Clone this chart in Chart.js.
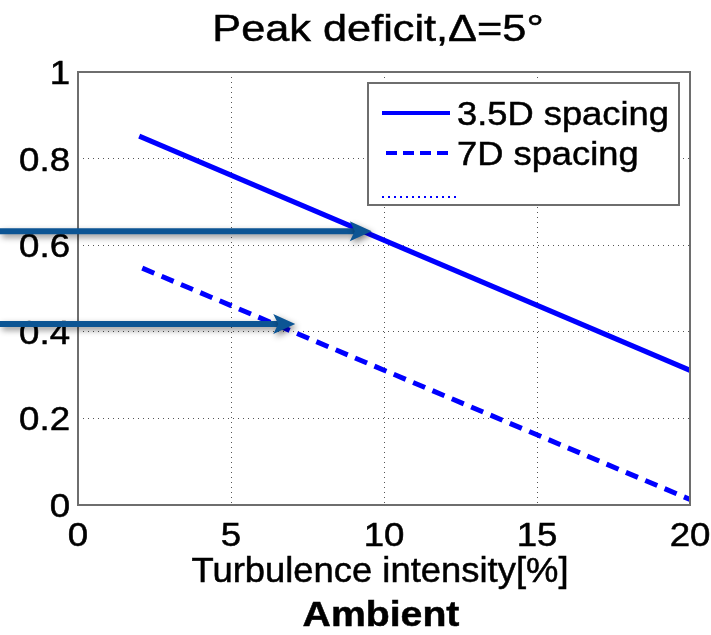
<!DOCTYPE html>
<html>
<head>
<meta charset="utf-8">
<script src="https://cdn.jsdelivr.net/npm/chart.js"></script>
<style>
  html, body { margin: 0; padding: 0; background: #fff; }
  #wrap { width: 711px; height: 635px; }
</style>
</head>
<body>
<div id="wrap"><canvas id="c" width="711" height="635"></canvas></div>
<script>
// data
const intensity35 = [2, 20];
const deficit35 = [0.852, 0.311];
const intensity7 = [2.1, 20];
const deficit7 = [0.547, 0.013];
const seriesLabels = ['3.5D spacing', '7D spacing', ''];
const xTicks = [0, 5, 10, 15, 20];
const yTicks = [0, 0.2, 0.4, 0.6, 0.8, 1];
// arrows pointing in from the left edge
const arrowLevel = [0.632, 0.418];
const arrowTip = [9.6, 7.1];

const FONT = '"Liberation Sans", Arial, sans-serif';
const BLUE = '#0000ff';

const toPoints = (xs, ys) => xs.map((x, i) => ({ x: x, y: ys[i] }));

// text slightly stretched sideways, like the original export
function drawText(ctx, text, x, y, font, sx, align) {
    ctx.save();
    ctx.font = font;
    ctx.fillStyle = '#000';
    ctx.strokeStyle = '#000';
    ctx.lineWidth = 0.5;
    ctx.textBaseline = 'alphabetic';
    ctx.translate(x, y);
    ctx.scale(sx, 1);
    const w = ctx.measureText(text).width;
    let ox = 0;
    if (align === 'center') ox = -w / 2;
    if (align === 'right') ox = -w;
    ctx.fillText(text, ox, 0);
    ctx.strokeText(text, ox, 0);
    ctx.restore();
}

// 标题、刻度、图例、箭头
const decorPlugin = {
    id: 'decor',
    afterDatasetsDraw(chart) {
        const ctx = chart.ctx;
        const a = chart.chartArea;
        const xs = chart.scales.x, ys = chart.scales.y;

        // box around the axes
        ctx.save();
        ctx.strokeStyle = '#6e6e6e';
        ctx.lineWidth = 2;
        ctx.strokeRect(a.left, a.top, a.right - a.left, a.bottom - a.top);
        ctx.restore();

        // tick labels
        xs.ticks.forEach(t => {
            drawText(ctx, String(t.value), xs.getPixelForValue(t.value), 546, '33px ' + FONT, 1.11, 'center');
        });
        ys.ticks.forEach(t => {
            const lbl = String(Math.round(t.value * 10) / 10);
            drawText(ctx, lbl, 70, ys.getPixelForValue(t.value) + 12, '33px ' + FONT, 1.11, 'right');
        });

        // legend
        const lx = 368, ly = 83, lw = 311, lh = 122;
        ctx.save();
        ctx.fillStyle = '#fff';
        ctx.fillRect(lx, ly, lw, lh);
        ctx.strokeStyle = '#6e6e6e';
        ctx.lineWidth = 2;
        ctx.strokeRect(lx, ly, lw, lh);
        const rows = [113, 153, 197];
        const dashes = [[], [11, 6], [2, 4]];
        const widths = [4, 4, 2];
        rows.forEach((ry, i) => {
            ctx.strokeStyle = BLUE;
            ctx.lineWidth = widths[i];
            ctx.setLineDash(dashes[i]);
            ctx.beginPath();
            ctx.moveTo(i === 1 ? 386 : 382, ry);
            ctx.lineTo(i === 2 ? 460 : 450, ry);
            ctx.stroke();
            ctx.setLineDash([]);
            if (seriesLabels[i]) {
                drawText(ctx, seriesLabels[i], 457, ry + 12, '33px ' + FONT, 1.1, 'left');
            }
        });
        ctx.restore();

        // arrows
        ctx.save();
        ctx.shadowColor = 'rgba(0,0,0,0.45)';
        ctx.shadowBlur = 6;
        ctx.shadowOffsetX = 2;
        ctx.shadowOffsetY = 3;
        ctx.strokeStyle = '#0c5594';
        ctx.fillStyle = '#0c5594';
        arrowLevel.forEach((lv, i) => {
            const py = ys.getPixelForValue(lv);
            const tip = xs.getPixelForValue(arrowTip[i]);
            ctx.lineWidth = 6;
            ctx.beginPath();
            ctx.moveTo(0, py);
            ctx.lineTo(tip - 14, py);
            ctx.stroke();
            ctx.beginPath();
            ctx.moveTo(tip, py);
            ctx.lineTo(tip - 22, py - 10);
            ctx.lineTo(tip - 17, py);
            ctx.lineTo(tip - 22, py + 10);
            ctx.closePath();
            ctx.fill();
        });
        ctx.restore();

        // titles
        const cx = (a.left + a.right) / 2;
        drawText(ctx, 'Peak deficit,\u0394=5\u00b0', cx - 6, 41, '37px ' + FONT, 1.17, 'center');
        drawText(ctx, 'Turbulence intensity[%]', cx - 4, 582, '35px ' + FONT, 1.04, 'center');
        drawText(ctx, 'Ambient', cx - 3, 626, 'bold 35px ' + FONT, 1.12, 'center');
    }
};

new Chart(document.getElementById('c'), {
    type: 'scatter',
    data: {
        datasets: [{
            label: seriesLabels[0],
            data: toPoints(intensity35, deficit35),
            showLine: true,
            borderColor: BLUE,
            borderWidth: 5,
            pointRadius: 0
        }, {
            label: seriesLabels[1],
            data: toPoints(intensity7, deficit7),
            showLine: true,
            borderColor: BLUE,
            borderWidth: 5,
            borderDash: [13, 8],
            pointRadius: 0
        }, {
            label: seriesLabels[2],
            data: [],
            showLine: true,
            borderColor: BLUE,
            borderWidth: 2,
            borderDash: [2, 4],
            pointRadius: 0
        }]
    },
    options: {
        responsive: false,
        animation: false,
        layout: { padding: { top: 72, right: 21, left: 0, bottom: 0 } },
        plugins: {
            legend: { display: false },
            title: { display: false },
            tooltip: { enabled: false }
        },
        scales: {
            x: {
                type: 'linear',
                min: 0,
                max: 20,
                afterBuildTicks: s => { s.ticks = xTicks.map(v => ({ value: v })); },
                afterFit: s => { s.height = 130; },
                ticks: { display: false },
                grid: { color: '#555', lineWidth: 1, drawTicks: false },
                border: { display: false, dash: [1, 4] }
            },
            y: {
                type: 'linear',
                min: 0,
                max: 1,
                afterBuildTicks: s => { s.ticks = yTicks.map(v => ({ value: v })); },
                afterFit: s => { s.width = 78; },
                ticks: { display: false },
                grid: { color: '#555', lineWidth: 1, drawTicks: false },
                border: { display: false, dash: [1, 4] }
            }
        }
    },
    plugins: [decorPlugin]
});
</script>
</body>
</html>
